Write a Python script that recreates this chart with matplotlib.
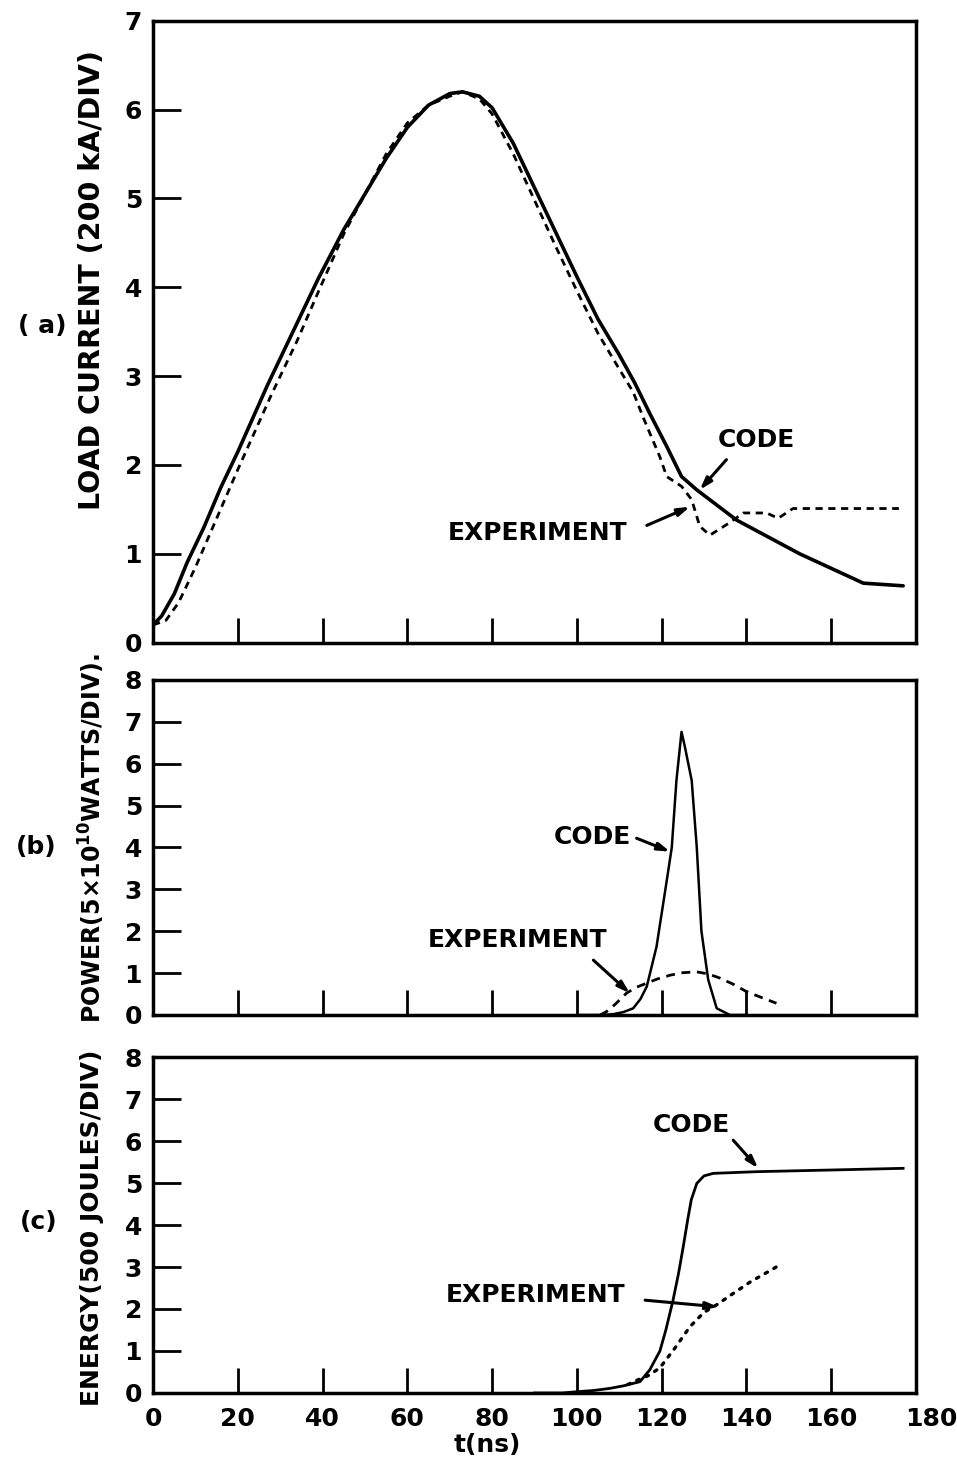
import matplotlib
matplotlib.use("Agg")
from matplotlib import pyplot as plt
from matplotlib.transforms import ScaledTranslation

# (a) load current, 200 kA/div
t_cur_code = [0, 2, 5, 8, 12, 16, 20, 27, 33, 39, 45, 50, 55, 60, 65, 70, 73, 77, 80, 85,
              90, 95, 100, 105, 110, 113.7, 117.2, 121.2, 124.7, 128.3, 137.7, 152.6,
              167.6, 177]
cur_code = [0.2, 0.3, 0.55, 0.9, 1.3, 1.75, 2.15, 2.9, 3.5, 4.1, 4.65, 5.05, 5.45, 5.8,
            6.05, 6.18, 6.2, 6.15, 6.02, 5.62, 5.12, 4.62, 4.12, 3.64, 3.24, 2.92, 2.58,
            2.21, 1.87, 1.72, 1.38, 1.0, 0.67, 0.64]
t_cur_exp = [0, 3, 6, 10, 15, 20, 28, 34, 39, 45, 50, 55, 60, 65, 70, 73, 77, 80, 85, 90,
             95, 100, 105, 110, 113.3, 115.7, 119.6, 121.2, 124.7, 127.1, 129, 131.4,
             135.7, 139.3, 144.8, 147.5, 151, 176]
cur_exp = [0.2, 0.25, 0.45, 0.85, 1.4, 1.95, 2.8, 3.4, 3.95, 4.6, 5.05, 5.5, 5.85, 6.05,
           6.15, 6.2, 6.12, 5.95, 5.5, 4.98, 4.46, 3.96, 3.48, 3.08, 2.82, 2.53, 2.09, 1.87,
           1.76, 1.61, 1.31, 1.21, 1.34, 1.46, 1.46, 1.40, 1.51, 1.51]

# (b) power, 5e10 W/div
t_pow_code = [100, 106, 108.6, 111, 113.3, 115, 116.5, 118.8, 121.2, 122.4, 123.5, 124.7,
              125.5, 127.1, 128.3, 129.4, 131, 133, 136.1, 140]
pow_code = [0, 0, 0.02, 0.07, 0.16, 0.38, 0.68, 1.63, 3.2, 4.0, 5.6, 6.76, 6.4, 5.6, 4.0,
            2.0, 0.84, 0.16, 0.0, 0]
t_pow_exp = [105.5, 107, 109, 111.7, 114, 116.5, 119, 122, 125, 128.3, 131, 133.8, 137,
             140, 143.5, 147.1]
pow_exp = [0.0, 0.08, 0.25, 0.52, 0.66, 0.76, 0.86, 0.95, 1.01, 1.03, 0.98, 0.88, 0.73,
           0.56, 0.42, 0.28]

# (c) energy, 500 J/div
t_en_code = [90, 96.6, 100, 104, 107.8, 111, 114.9, 117.2, 119.6, 121, 122.7, 124, 125.1,
             126.2, 127, 128.3, 130, 132.2, 142.4, 160, 177]
en_code = [0, 0.0, 0.03, 0.06, 0.11, 0.17, 0.27, 0.55, 1.0, 1.5, 2.21, 2.85, 3.48, 4.15,
           4.6, 4.99, 5.17, 5.23, 5.27, 5.31, 5.35]
t_en_exp = [112, 114.1, 117, 119.6, 123, 126.7, 130, 133, 136.9, 141, 144.5, 147.9]
en_exp = [0.2, 0.3, 0.42, 0.6, 1.05, 1.58, 1.92, 2.1, 2.37, 2.65, 2.85, 3.05]

x_ticks = list(range(0, 181, 20))

plt.rcParams['font.family'] = ['DejaVu Sans']
plt.rcParams['font.weight'] = 'bold'
FS = 18

fig = plt.figure(figsize=(9.57, 14.6), dpi=100)
L, W = 0.160, 0.797
ax_a = fig.add_axes([L, 0.5598, W, 0.4260])
ax_b = fig.add_axes([L, 0.3048, W, 0.2295])
ax_c = fig.add_axes([L, 0.0459, W, 0.2301])


def style(ax, ymax, bottom_labels):
    ax.set_xlim(0, 180)
    ax.set_ylim(0, ymax)
    ax.set_xticks(x_ticks)
    ax.set_yticks(range(0, ymax + 1))
    ax.tick_params(axis='both', direction='in', width=2, labelsize=FS, color='black')
    ax.tick_params(axis='y', length=20, pad=8)
    ax.tick_params(axis='x', length=18, pad=10, labelbottom=bottom_labels)
    for s in ax.spines.values():
        s.set_linewidth(2.5)


style(ax_a, 7, False)
style(ax_b, 8, False)
style(ax_c, 8, True)

# the "180" label sits a little right of the corner in the original
last = ax_c.get_xticklabels()[-1]
last.set_transform(last.get_transform() + ScaledTranslation(0.15, 0, fig.dpi_scale_trans))

dash = (0, (2.6, 2.0))
ax_a.plot(t_cur_code, cur_code, color='black', lw=2.6, solid_capstyle='round',
          solid_joinstyle='round')
ax_a.plot(t_cur_exp, cur_exp, color='black', lw=2.0, linestyle=dash)

ax_b.plot(t_pow_code, pow_code, color='black', lw=1.8)
ax_b.plot(t_pow_exp, pow_exp, color='black', lw=2.0, linestyle=(0, (3.2, 2.4)))

ax_c.plot(t_en_code, en_code, color='black', lw=2.0)
ax_c.plot(t_en_exp, en_exp, color='black', lw=2.4, linestyle=(0, (0.8, 2.2)),
          dash_capstyle='round')

arrow = dict(arrowstyle='-|>,head_length=0.7,head_width=0.22', color='black', lw=2.2,
             shrinkA=0, shrinkB=0)


def note(ax, text, lab, tail, head):
    ax.text(lab[0], lab[1], text, fontsize=FS, ha='center', va='center')
    ax.annotate('', xy=head, xytext=tail, arrowprops=arrow)


note(ax_a, 'CODE', (142.4, 2.28), (135.3, 2.06), (129.0, 1.72))
note(ax_a, 'EXPERIMENT', (90.8, 1.23), (116.5, 1.32), (126.7, 1.53))
note(ax_b, 'CODE', (103.7, 4.25), (114.1, 4.22), (122.0, 3.9))
note(ax_b, 'EXPERIMENT', (86.1, 1.79), (103.9, 1.31), (112.5, 0.52))
note(ax_c, 'CODE', (127.1, 6.38), (136.9, 6.02), (142.8, 5.35))
note(ax_c, 'EXPERIMENT', (90.3, 2.33), (116.1, 2.21), (133.4, 2.05))

fig.text(92 / 957, 1 - 280 / 1460, 'LOAD CURRENT (200 kA/DIV)', rotation=90,
         ha='center', va='center', fontsize=20.5)
fig.text(92 / 957, 1 - 838 / 1460, r'POWER(5$\times$10$^{10}$WATTS/DIV).', rotation=90,
         ha='center', va='center', fontsize=17)
fig.text(92 / 957, 1 - 1228 / 1460, 'ENERGY(500 JOULES/DIV)', rotation=90,
         ha='center', va='center', fontsize=FS)

fig.text(42 / 957, 1 - 326 / 1460, '( a)', ha='center', va='center', fontsize=FS)
fig.text(36 / 957, 1 - 847 / 1460, '(b)', ha='center', va='center', fontsize=FS)
fig.text(39 / 957, 1 - 1222 / 1460, '(c)', ha='center', va='center', fontsize=FS)

fig.text(487 / 957, 1 - 1445 / 1460, 't(ns)', ha='center', va='center', fontsize=FS)

fig.savefig('out.png', dpi=100)
